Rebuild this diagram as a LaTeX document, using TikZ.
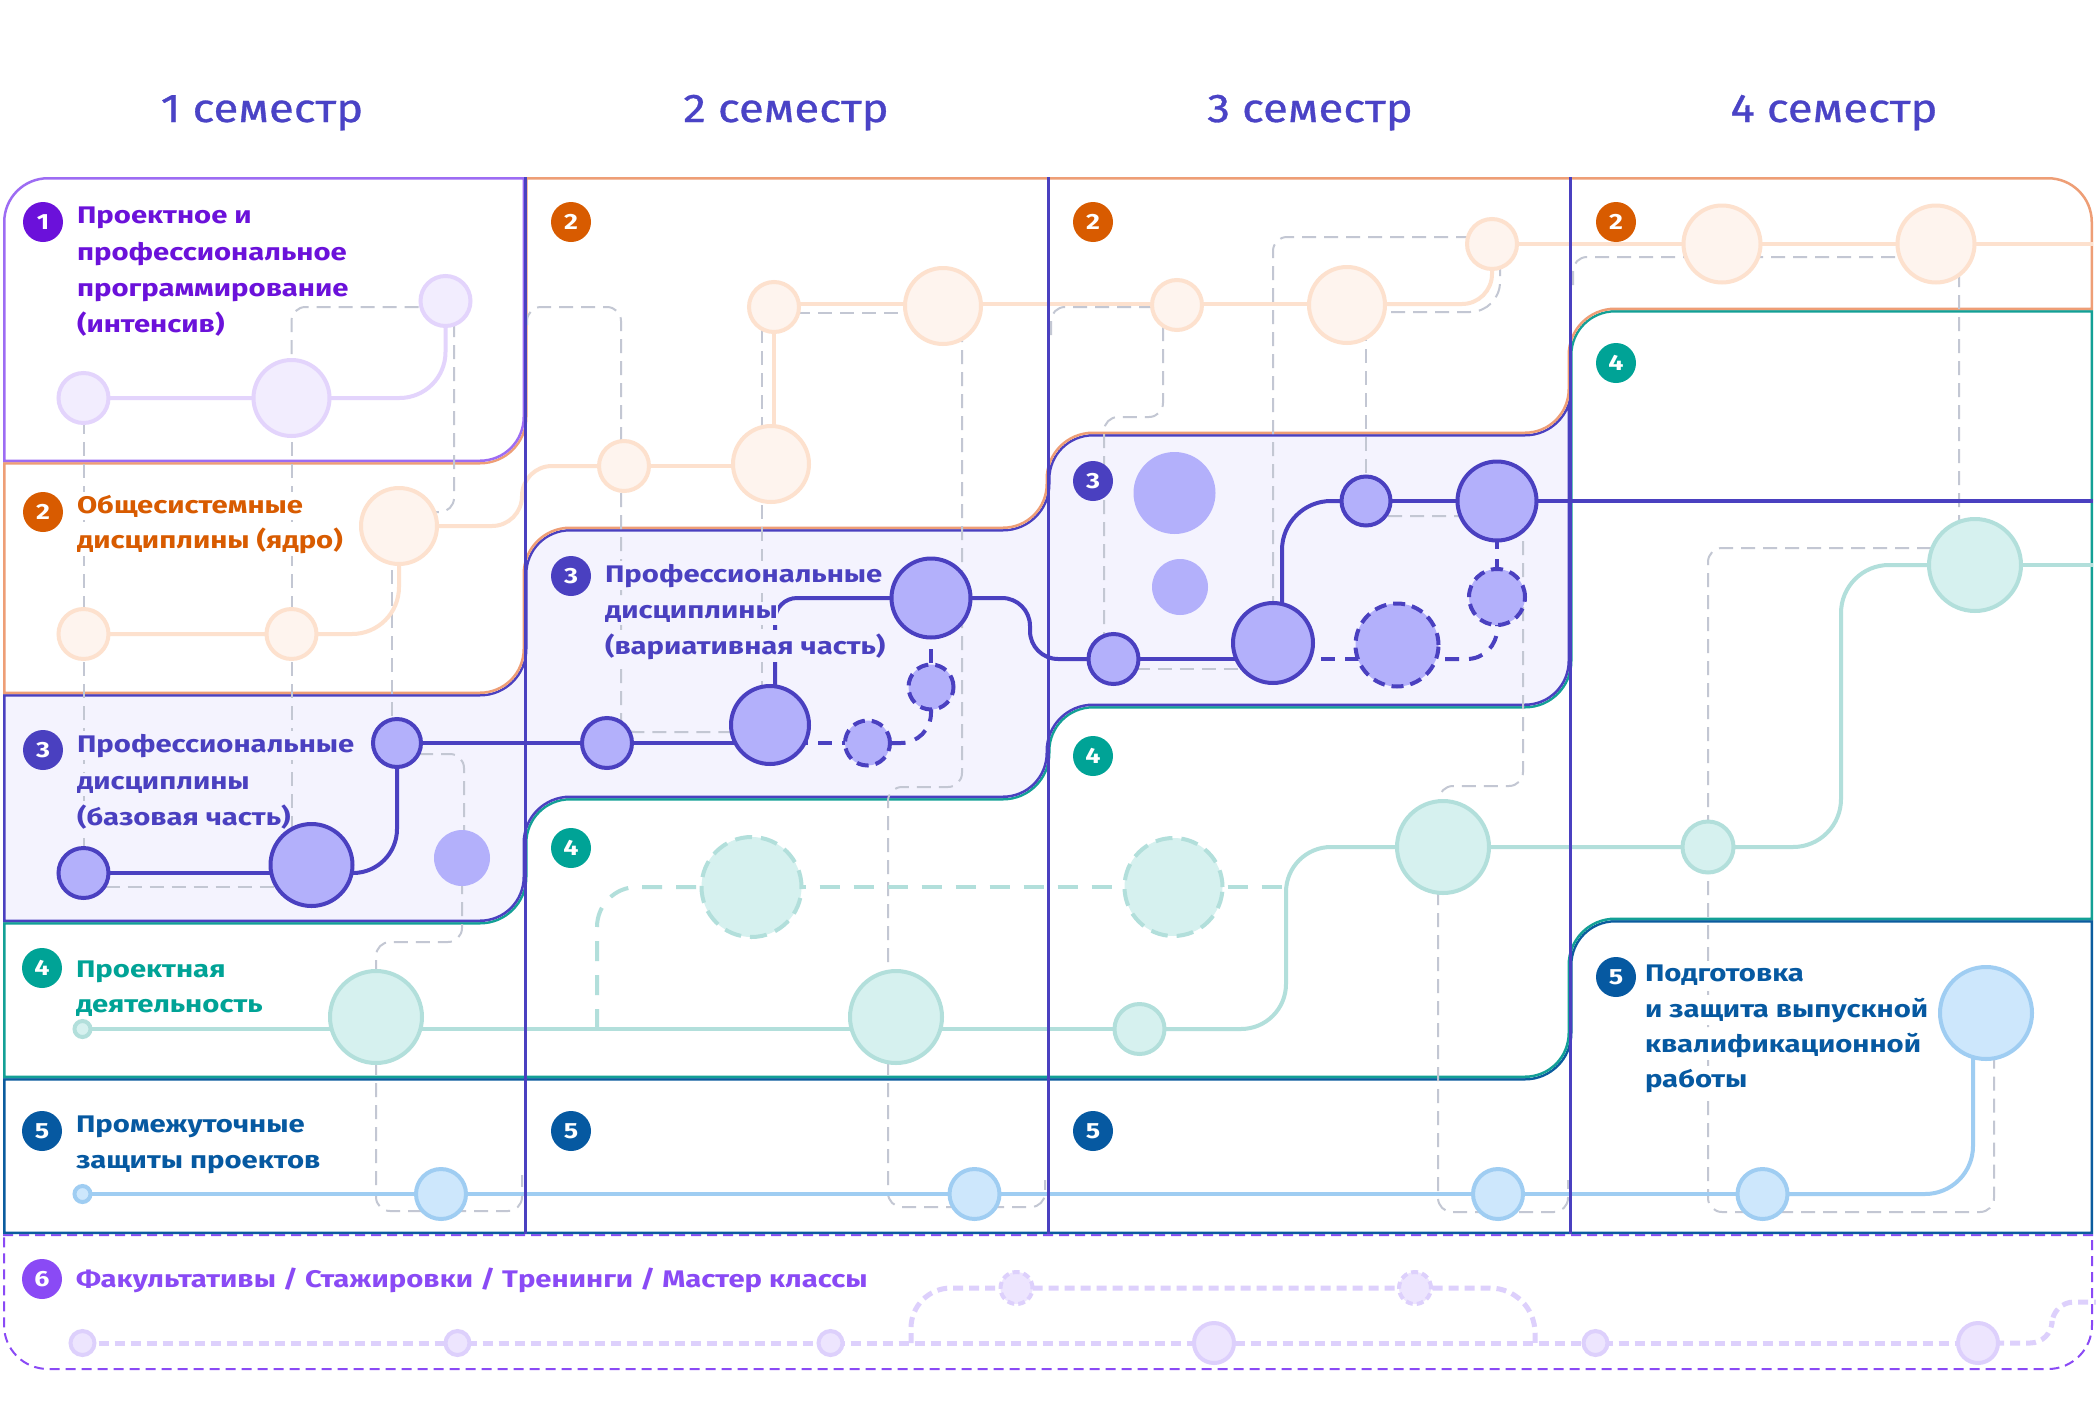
\documentclass[tikz,border=0pt]{standalone}
\usepackage{fontspec}
\setmainfont{Fira Sans}
\newfontfamily\lblf[FakeStretch=1.22]{Fira Sans}
\newfontfamily\hdrf[FakeStretch=1.14,FakeBold=0.8]{Fira Sans}
\definecolor{hd}{HTML}{4A43C6}
\definecolor{k1}{HTML}{6B11DA}
\definecolor{k2}{HTML}{D85B00}
\definecolor{k3}{HTML}{4A40C0}
\definecolor{k4}{HTML}{00A396}
\definecolor{k5}{HTML}{0659A1}
\definecolor{k6}{HTML}{8A4AF5}
\definecolor{l1}{HTML}{E3D4FC}
\definecolor{f1}{HTML}{F2EDFE}
\definecolor{l2}{HTML}{FDE1CE}
\definecolor{f2}{HTML}{FEF4EE}
\definecolor{f3}{HTML}{B3B0FB}
\definecolor{bf3}{HTML}{F4F3FE}
\definecolor{l4}{HTML}{B2DFDB}
\definecolor{f4}{HTML}{D6F1EF}
\definecolor{l5}{HTML}{9FCDF2}
\definecolor{f5}{HTML}{CDE7FC}
\definecolor{l6}{HTML}{DDD0FC}
\definecolor{f6}{HTML}{EDE5FE}
\definecolor{b1}{HTML}{9D6CF3}
\definecolor{b2}{HTML}{EE9E76}
\definecolor{b4}{HTML}{13A096}
\definecolor{b5}{HTML}{0B5C9E}
\definecolor{gr}{HTML}{C3C7D3}
\pgfdeclarelayer{lbands}
\pgfdeclarelayer{lgray}
\pgfdeclarelayer{ltracks}
\pgfdeclarelayer{lcols}
\pgfsetlayers{lbands,lgray,ltracks,lcols,main}
\newcommand\bandA{(3,462) -- (3,222) .. controls (3,197.1) and (23.1,177) .. (48,177) -- (525,177) -- (525,417) .. controls (525,441.9) and (504.9,462) .. (480,462) -- cycle}
\newcommand\bandB{(3,462) -- (480,462) .. controls (504.9,462) and (525,441.9) .. (525,417) -- (525,177) -- (2048,177) .. controls (2072.9,177) and (2093,197.1) .. (2093,222) -- (2093,310) -- (1615,310) .. controls (1590.1,310) and (1570,330.1) .. (1570,355) -- (1570,389) .. controls (1570,413.9) and (1549.9,434) .. (1525,434) -- (1093,434) .. controls (1068.1,434) and (1048,454.1) .. (1048,479) -- (1048,484) .. controls (1048,508.9) and (1027.9,529) .. (1003,529) -- (570,529) .. controls (545.1,529) and (525,549.1) .. (525,574) -- (525,649) .. controls (525,673.9) and (504.9,694) .. (480,694) -- (3,694) -- cycle}
\newcommand\bandC{(3,694) -- (480,694) .. controls (504.9,694) and (525,673.9) .. (525,649) -- (525,574) .. controls (525,549.1) and (545.1,529) .. (570,529) -- (1003,529) .. controls (1027.9,529) and (1048,508.9) .. (1048,484) -- (1048,479) .. controls (1048,454.1) and (1068.1,434) .. (1093,434) -- (1525,434) .. controls (1549.9,434) and (1570,413.9) .. (1570,389) -- (1570,661) .. controls (1570,685.9) and (1549.9,706) .. (1525,706) -- (1093,706) .. controls (1068.1,706) and (1048,726.1) .. (1048,751) -- (1048,753) .. controls (1048,777.9) and (1027.9,798) .. (1003,798) -- (570,798) .. controls (545.1,798) and (525,818.1) .. (525,843) -- (525,877) .. controls (525,901.9) and (504.9,922) .. (480,922) -- (3,922) -- cycle}
\newcommand\bandD{(3,922) -- (480,922) .. controls (504.9,922) and (525,901.9) .. (525,877) -- (525,843) .. controls (525,818.1) and (545.1,798) .. (570,798) -- (1003,798) .. controls (1027.9,798) and (1048,777.9) .. (1048,753) -- (1048,751) .. controls (1048,726.1) and (1068.1,706) .. (1093,706) -- (1525,706) .. controls (1549.9,706) and (1570,685.9) .. (1570,661) -- (1570,355) .. controls (1570,330.1) and (1590.1,310) .. (1615,310) -- (2093,310) -- (2093,920) -- (1615,920) .. controls (1590.1,920) and (1570,940.1) .. (1570,965) -- (1570,1033) .. controls (1570,1057.9) and (1549.9,1078) .. (1525,1078) -- (3,1078) -- cycle}
\newcommand\bandE{(3,1078) -- (1525,1078) .. controls (1549.9,1078) and (1570,1057.9) .. (1570,1033) -- (1570,965) .. controls (1570,940.1) and (1590.1,920) .. (1615,920) -- (2093,920) -- (2093,1234) -- (3,1234) -- cycle}
\newcommand\bandF{(3,1234) -- (2093,1234) -- (2093,1325) .. controls (2093,1349.9) and (2072.9,1370) .. (2048,1370) -- (48,1370) .. controls (23.1,1370) and (3,1349.9) .. (3,1325) -- cycle}
\tikzset{
  every node/.style={inner sep=0pt, outer sep=0pt},
  cir/.style={circle, line width=4pt},
  n1/.style={cir, fill=f1, draw=l1},
  n2/.style={cir, fill=f2, draw=l2},
  n3/.style={cir, fill=f3, draw=k3},
  n3p/.style={cir, fill=f3},
  n3d/.style={cir, fill=f3, draw=k3, dash pattern=on 12pt off 7pt},
  n4/.style={cir, fill=f4, draw=l4},
  n4d/.style={cir, fill=f4, draw=l4, dash pattern=on 17pt off 9pt},
  n5/.style={cir, fill=f5, draw=l5},
  n6/.style={cir, fill=f6, draw=l6},
  n6d/.style={cir, fill=f6, draw=l6, dash pattern=on 7pt off 4pt},
  tr/.style={line width=4pt},
  t1/.style={tr, draw=l1},
  t2/.style={tr, draw=l2},
  t3/.style={tr, draw=k3},
  t3d/.style={tr, draw=k3, dash pattern=on 14pt off 10pt},
  t4/.style={tr, draw=l4},
  t4d/.style={tr, draw=l4, dash pattern=on 20pt off 14pt},
  t5/.style={tr, draw=l5},
  t6/.style={line width=5pt, draw=l6, dash pattern=on 10pt off 6pt},
  gd/.style={draw=gr, line width=2pt, dash pattern=on 14pt off 8pt, rounded corners=14pt},
  colline/.style={draw=k3, line width=3pt},
  badge/.style={circle, minimum size=40pt, text=white, font=\lblf\bfseries\fontsize{22}{22}\selectfont},
  lbl/.style={anchor=base west, inner ysep=3pt, font=\lblf\bfseries\fontsize{24}{24}\selectfont},
  hdr/.style={anchor=base, font=\hdrf\fontsize{40}{40}\selectfont, text=hd},
}
\begin{document}
\begin{tikzpicture}[x=1pt,y=-1pt]
\useasboundingbox (0,0) rectangle (2096,1416);

% headers
\node[hdr] (h1) at (262,122) {1 семестр};
\node[hdr] (h2) at (786,122) {2 семестр};
\node[hdr] (h3) at (1310,122) {3 семестр};
\node[hdr] (h4) at (1834,122) {4 семестр};

% bands
\begin{pgfonlayer}{lbands}
\fill[white] (0,0) rectangle (2096,1416);
\begin{scope}\clip \bandF; \path[fill=white, draw=k6, line width=4pt, dash pattern=on 10pt off 6pt] \bandF; \end{scope}
\begin{scope}\clip \bandE; \path[fill=white, draw=b5, line width=5pt] \bandE; \end{scope}
\begin{scope}\clip \bandD; \path[fill=white, draw=b4, line width=5pt] \bandD; \end{scope}
\begin{scope}\clip \bandC; \path[fill=bf3, draw=k3, line width=5pt] \bandC; \end{scope}
\begin{scope}\clip \bandB; \path[fill=white, draw=b2, line width=5pt] \bandB; \end{scope}
\begin{scope}\clip \bandA; \path[fill=white, draw=b1, line width=5pt] \bandA; \end{scope}
\end{pgfonlayer}

% column lines
\begin{pgfonlayer}{lcols}
\draw[colline] (525,177) -- (525,1234);
\draw[colline] (1048,177) -- (1048,1234);
\draw[colline] (1570,177) -- (1570,1234);
\end{pgfonlayer}

% labels
\node[lbl, text=k1] (t1a) at (77,223) {Проектное и};
\node[lbl, text=k1] (t1b) at (77,260) {профессиональное};
\node[lbl, text=k1] (t1c) at (77,296) {программирование};
\node[lbl, text=k1] (t1d) at (77,332) {(интенсив)};
\node[lbl, text=k2, fill=white] (t2a) at (77,513) {Общесистемные};
\node[lbl, text=k2, fill=white] (t2b) at (77,548) {дисциплины (ядро)};
\node[lbl, text=k3, fill=bf3] (t3a) at (77,752) {Профессиональные};
\node[lbl, text=k3, fill=bf3] (t3b) at (77,789) {дисциплины};
\node[lbl, text=k3, fill=bf3] (t3c) at (77,825) {(базовая часть)};
\node[lbl, text=k4] (t4a) at (76,977) {Проектная};
\node[lbl, text=k4] (t4b) at (76,1012) {деятельность};
\node[lbl, text=k5] (t5a) at (76,1132) {Промежуточные};
\node[lbl, text=k5] (t5b) at (76,1168) {защиты проектов};
\node[lbl, text=k6] (t6a) at (76,1287) {Факультативы / Стажировки / Тренинги / Мастер классы};
\node[lbl, text=k3, fill=bf3] (u3a) at (605,582) {Профессиональные};
\node[lbl, text=k3, fill=bf3] (u3b) at (605,618) {дисциплины};
\node[lbl, text=k3, fill=bf3] (u3c) at (605,654) {(вариативная часть)};
\node[lbl, text=k5, fill=white] (v5a) at (1645,981) {Подготовка};
\node[lbl, text=k5, fill=white] (v5b) at (1645,1017) {и защита выпускной};
\node[lbl, text=k5, fill=white] (v5c) at (1645,1052) {квалификационной};
\node[lbl, text=k5, fill=white] (v5d) at (1645,1087) {работы};

% row 1 nodes
\node[n1, minimum size=50pt] (c1a) at (83.5,398) {};
\node[n1, minimum size=76pt] (c1b) at (291.5,398) {};
\node[n1, minimum size=50pt] (c1c) at (445.5,301) {};
% row 2 nodes
\node[n2, minimum size=50pt] (c2a) at (83.5,634) {};
\node[n2, minimum size=50pt] (c2b) at (291.5,634) {};
\node[n2, minimum size=76pt] (c2c) at (399,526) {};
\node[n2, minimum size=50pt] (c2d) at (624,466) {};
\node[n2, minimum size=76pt] (c2e) at (771,464) {};
\node[n2, minimum size=50pt] (c2f) at (774,307) {};
\node[n2, minimum size=76pt] (c2g) at (943,306) {};
\node[n2, minimum size=50pt] (c2h) at (1177,305) {};
\node[n2, minimum size=76pt] (c2i) at (1347,305) {};
\node[n2, minimum size=50pt] (c2j) at (1492,244) {};
\node[n2, minimum size=77pt] (c2k) at (1722,244) {};
\node[n2, minimum size=77pt] (c2l) at (1936,244) {};
% row 3 nodes
\node[n3, minimum size=50pt] (c3a) at (83.5,873) {};
\node[n3, minimum size=82pt] (c3b) at (311.5,865) {};
\node[n3, minimum size=48pt] (c3c) at (397,743) {};
\node[n3p, minimum size=56pt] (c3d) at (462,858) {};
\node[n3, minimum size=50pt] (c3e) at (607,743) {};
\node[n3, minimum size=78pt] (c3f) at (770,725) {};
\node[n3, minimum size=79pt] (c3g) at (931,598) {};
\node[n3d, minimum size=45pt] (c3h) at (867.5,743) {};
\node[n3d, minimum size=45pt] (c3i) at (931,687) {};
\node[n3, minimum size=50pt] (c3j) at (1113.5,659) {};
\node[n3, minimum size=80pt] (c3k) at (1273,643) {};
\node[n3d, minimum size=83pt] (c3l) at (1397,645) {};
\node[n3d, minimum size=56pt] (c3m) at (1497,597) {};
\node[n3, minimum size=49pt] (c3n) at (1366,501) {};
\node[n3, minimum size=79pt] (c3o) at (1497,501) {};
\node[n3p, minimum size=82pt] (c3p) at (1174.5,493) {};
\node[n3p, minimum size=56pt] (c3q) at (1180,587) {};
% row 4 nodes
\node[n4, minimum size=16pt] (c4s) at (82.5,1029) {};
\node[n4, minimum size=92pt] (c4a) at (376,1017) {};
\node[n4d, minimum size=100pt] (c4b) at (751.5,887) {};
\node[n4d, minimum size=98pt] (c4c) at (1173.5,887) {};
\node[n4, minimum size=92pt] (c4d) at (896,1017) {};
\node[n4, minimum size=50pt] (c4f) at (1139.5,1029) {};
\node[n4, minimum size=92pt] (c4e) at (1443,847) {};
\node[n4, minimum size=51pt] (c4g) at (1708,847) {};
\node[n4, minimum size=92pt] (c4h) at (1975,565) {};
% row 5 nodes
\node[n5, minimum size=16pt] (c5s) at (82.5,1194) {};
\node[n5, minimum size=50pt] (c5a) at (441,1194) {};
\node[n5, minimum size=50pt] (c5b) at (974.5,1194) {};
\node[n5, minimum size=50pt] (c5c) at (1498,1194) {};
\node[n5, minimum size=50pt] (c5d) at (1762.5,1194) {};
\node[n5, minimum size=92pt] (c5e) at (1986,1013) {};
% row 6 nodes
\node[n6, minimum size=24pt] (c6a) at (82.5,1343) {};
\node[n6, minimum size=24pt] (c6b) at (457.5,1343) {};
\node[n6, minimum size=24pt] (c6c) at (830.5,1343) {};
\node[n6d, minimum size=32pt] (c6d) at (1016.5,1288) {};
\node[n6d, minimum size=32pt] (c6e) at (1415,1288) {};
\node[n6, minimum size=40pt] (c6f) at (1214,1343) {};
\node[n6, minimum size=24pt] (c6g) at (1595.5,1343) {};
\node[n6, minimum size=40pt] (c6h) at (1978,1343) {};

% free ends
\coordinate (r2end) at (2093,244);
\coordinate (r3end) at (2093,501);
\coordinate (r4end) at (2093,565);
\coordinate (r6end) at (2096,1302);
\coordinate (t4br) at (597,1029);
\coordinate (t4j) at (1286,887);
\coordinate (t6a) at (911,1343);
\coordinate (t6b) at (1535,1343);
\coordinate (g9e) at (522,1175);
\coordinate (g10s) at (527,325);
\coordinate (g13e) at (1045,1180);
\coordinate (g18s) at (1051,335);
\coordinate (g21e) at (1568,1180);
\coordinate (g22s) at (1573,285);

% badges
\node[badge, fill=k1] (b1) at (43,222) {1};
\node[badge, fill=k2] (b2a) at (43,512) {2};
\node[badge, fill=k3] (b3a) at (43,750) {3};
\node[badge, fill=k4] (b4a) at (42,968) {4};
\node[badge, fill=k5] (b5a) at (42,1131) {5};
\node[badge, fill=k6] (b6) at (42,1279) {6};
\node[badge, fill=k2] (b2b) at (571,222) {2};
\node[badge, fill=k3] (b3b) at (571,576) {3};
\node[badge, fill=k4] (b4b) at (571,848) {4};
\node[badge, fill=k5] (b5b) at (571,1131) {5};
\node[badge, fill=k2] (b2c) at (1093,222) {2};
\node[badge, fill=k3] (b3c) at (1093,481) {3};
\node[badge, fill=k4] (b4c) at (1093,756) {4};
\node[badge, fill=k5] (b5c) at (1093,1131) {5};
\node[badge, fill=k2] (b2d) at (1616,222) {2};
\node[badge, fill=k4] (b4d) at (1616,363) {4};
\node[badge, fill=k5] (b5d) at (1616,977) {5};

% gray dashed links
\begin{pgfonlayer}{lgray}
\draw[gd] (c1b.center) -- (c1b.center |- 0,307) -- (c1c.center |- 0,307);
\draw[gd] ([xshift=8.5pt]c1c.center) -- (454,512) -- (c2c.center |- 0,512);
\draw[gd] (c1a.center) -- (c3a.center);
\draw[gd] (c1b.center) -- (c1b.center |- c3b.center);
\draw[gd] ([xshift=-7pt]c2c.center) -- ([xshift=-5pt]c3c.center);
\draw[gd] (c3a.center |- 0,887) -- (c3b.center |- 0,887);
\draw[gd] (c3c.center |- 0,754) -- (464,754) -- ([xshift=2pt]c3d.center);
\draw[gd] (c3d.center) -- (462,942) -- (376,942) -- (c4a.center);
\draw[gd] (c4a.center) -- (376,1211) -- (522,1211) -- (g9e);
\draw[gd] (g10s) -- (527,307) -- (621,307) -- (621,732) -- (c3f.center |- 0,732);
\draw[gd] ([xshift=-12pt]c2f.center) -- ([xshift=-8pt]c3f.center);
\draw[gd] (c2f.center |- 0,313) -- (c2g.center |- 0,313);
\draw[gd] ([xshift=19pt]c2g.center) -- (962,787) -- (888,787) -- ([xshift=-8pt]c4d.center);
\draw[gd] ([xshift=-8pt]c4d.center) -- (888,1207) -- (1045,1207) -- (g13e);
\draw[gd] ([xshift=-14pt]c2h.center) -- (1163,417) -- (1104,417) -- ([xshift=-9.5pt]c3j.center);
\draw[gd] (c2j.center |- 0,237) -- (c3k.center |- 0,237) -- (c3k.center);
\draw[gd] (c2i.center -| c3n.center) -- (c3n.center);
\draw[gd, rounded corners=30pt] (c2i.center |- 0,312) -- (1500,312) -- ([xshift=8pt]c2j.center);
\draw[gd] (g18s) -- (1051,307) -- (c2h.center |- 0,307);
\draw[gd] (c3j.center |- 0,669) -- (c3k.center |- 0,669);
\draw[gd] (c3n.center |- 0,516) -- (1523,516) -- (1523,786) -- (1439,786) -- ([xshift=-4pt]c4e.center);
\draw[gd] ([xshift=-5pt]c4e.center) -- (1438,1212) -- (1568,1212) -- (g21e);
\draw[gd] (g22s) -- (1573,257) -- (1959,257) -- ([xshift=-16pt]c4h.center);
\draw[gd] (c4h.center |- 0,548) -- (1708,548) -- (1708,1212) -- (1994,1212) -- ([xshift=8pt]c5e.center);
\end{pgfonlayer}

% tracks
\begin{pgfonlayer}{ltracks}
% row 1
\draw[t1, rounded corners=46pt] (c1a.center) -- (c1c.center |- c1a.center) -- (c1c.center);
% row 2
\draw[t2, rounded corners=47pt] (c2a.center) -- (c2c.center |- c2a.center) -- (c2c.center);
\draw[t2, rounded corners=30pt] (c2c.center) -- (522,526) -- (522,466) -- (c2d.center);
\draw[t2] (c2d.center) -- (c2d.center -| c2e.center);
\draw[t2] (c2f.center) -- (c2f.center |- c2e.center);
\draw[t2] (c2f.center |- 0,304) -- (c2i.center |- 0,304);
\draw[t2, rounded corners=30pt] (c2i.center |- 0,304) -- (c2j.center |- 0,304) -- (c2j.center);
\draw[t2] (c2j.center) -- (r2end);
% row 3
\draw[t3] (c3a.center) -- (c3a.center -| c3b.center);
\draw[t3, rounded corners=44pt] (c3a.center -| c3b.center) -- (c3c.center |- c3a.center) -- (c3c.center);
\draw[t3] (c3c.center) -- (c3e.center) -- (c3e.center -| c3f.center);
\draw[t3d] (c3e.center -| c3f.center) -- (c3h.center);
\draw[t3d, rounded corners=30pt] (c3h.center) -- (c3h.center -| c3i.center) -- (c3i.center);
\draw[t3d] (c3i.center) -- (c3g.center);
\draw[t3, rounded corners=22pt] ([xshift=5pt]c3f.center) -- (775,598) -- (c3g.center);
\draw[t3, rounded corners=28pt] (c3g.center) -- (1030,598) -- (1030,659) -- (c3j.center);
\draw[t3] (c3j.center) -- (c3j.center -| c3k.center);
\draw[t3d] (c3j.center -| c3k.center) -- (c3j.center -| c3l.center);
\draw[t3d, rounded corners=30pt] (c3j.center -| c3l.center) -- (c3j.center -| c3m.center) -- (c3m.center);
\draw[t3d] (c3m.center) -- (c3o.center);
\draw[t3, rounded corners=49pt] ([xshift=9pt]c3k.center) -- (1282,501) -- (c3n.center);
\draw[t3] (c3n.center) -- (c3o.center) -- (r3end);
% row 4
\draw[t4] (c4s.center) -- (c4f.center);
\draw[t4, rounded corners=45pt] (c4f.center) -- (1286,1029) -- (1286,847) -- (c4e.center);
\draw[t4, rounded corners=48pt] (c4e.center) -- (c4g.center) -- (1841,847) -- (1841,565) -- (c4h.center);
\draw[t4] (c4h.center) -- (r4end);
\draw[t4d, rounded corners=40pt] (t4br) -- (597,887) -- (c4b.center);
\draw[t4d] (c4b.center) -- (c4c.center) -- (t4j);
% row 5
\draw[t5] (c5s.center) -- (c5d.center);
\draw[t5, rounded corners=48pt] (c5d.center) -- (1973,1194) -- ([xshift=-13pt]c5e.center);
% row 6
\draw[t6] (c6a.center) -- (c6h.center);
\draw[t6, rounded corners=22pt] (c6h.center) -- (2052,1343) -- (2052,1302) -- (r6end);
\draw[t6, rounded corners=40pt] (t6a) -- (911,1288) -- (c6d.center);
\draw[t6, rounded corners=45pt] (c6d.center) -- (c6e.center) -- (1535,1288) -- (t6b);
\end{pgfonlayer}
\end{tikzpicture}
\end{document}
